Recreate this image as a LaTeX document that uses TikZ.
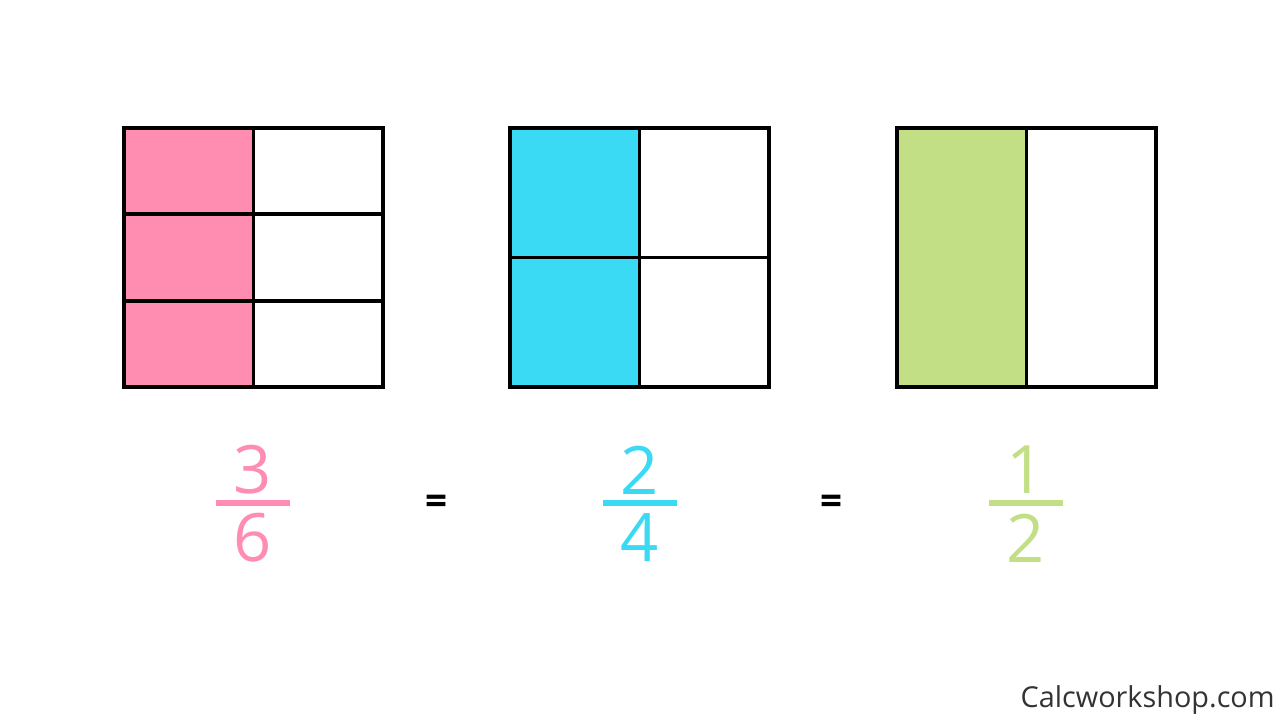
\documentclass[tikz,border=0pt]{standalone}
\usepackage{fontspec}
\setmainfont{Open Sans}
\usepackage{tikz}
\usetikzlibrary{positioning,calc}
\definecolor{fracpink}{RGB}{255,141,178}
\definecolor{fraccyan}{RGB}{58,217,244}
\definecolor{fracgreen}{RGB}{194,223,133}
\definecolor{markgray}{RGB}{51,51,51}

\begin{document}
\begin{tikzpicture}[x=0.02cm,y=-0.02cm,
 cell/.style={draw=black,line width=2.1pt},
 digit/.style={font=\fontsize{38}{40}\selectfont,inner sep=0pt},
 bar/.style={line width=3.4pt},
 eq/.style={font=\fontsize{22}{24}\selectfont\bfseries,inner sep=0pt},
 sitemark/.style={font=\fontsize{16.4}{19}\selectfont,text=markgray,anchor=base east,inner sep=0pt}]
\useasboundingbox (0,0) rectangle (1280,720);
% three sixths
\fill[fracpink] (124,128) rectangle (253.5,387);
\foreach \r in {0,1,2}
 \foreach \c in {0,1}
  \draw[cell] ({124+\c*129.5},{128+\r*86.33}) rectangle ++(129.5,86.33);
% two quarters
\fill[fraccyan] (510,128) rectangle (639.5,387);
\foreach \r in {0,1}
 \foreach \c in {0,1}
  \draw[cell] ({510+\c*129.5},{128+\r*129.5}) rectangle ++(129.5,129.5);
% one half
\fill[fracgreen] (897,128) rectangle (1026.5,387);
\foreach \c in {0,1}
 \draw[cell] ({897+\c*129.5},128) rectangle ++(129.5,259);
% fractions
\node[digit,text=fracpink] (n1) at (253,470) {3};
\node[digit,text=fracpink] (d1) at (253,538) {6};
\draw[bar,fracpink] (216,503) -- (290,503);
\node[digit,text=fraccyan] (n2) at (640,470) {2};
\node[digit,text=fraccyan] (d2) at (640,538) {4};
\draw[bar,fraccyan] (603,503) -- (677,503);
\node[digit,text=fracgreen] (n3) at (1026,470) {1};
\node[digit,text=fracgreen] (d3) at (1026,538) {2};
\draw[bar,fracgreen] (989,503) -- (1063,503);
\node[eq] (e1) at (437,505) {=};
\node[eq] (e2) at (832,505) {=};
\node[sitemark] (wm) at (1275,707) {Calcworkshop.com};
\end{tikzpicture}
\end{document}
